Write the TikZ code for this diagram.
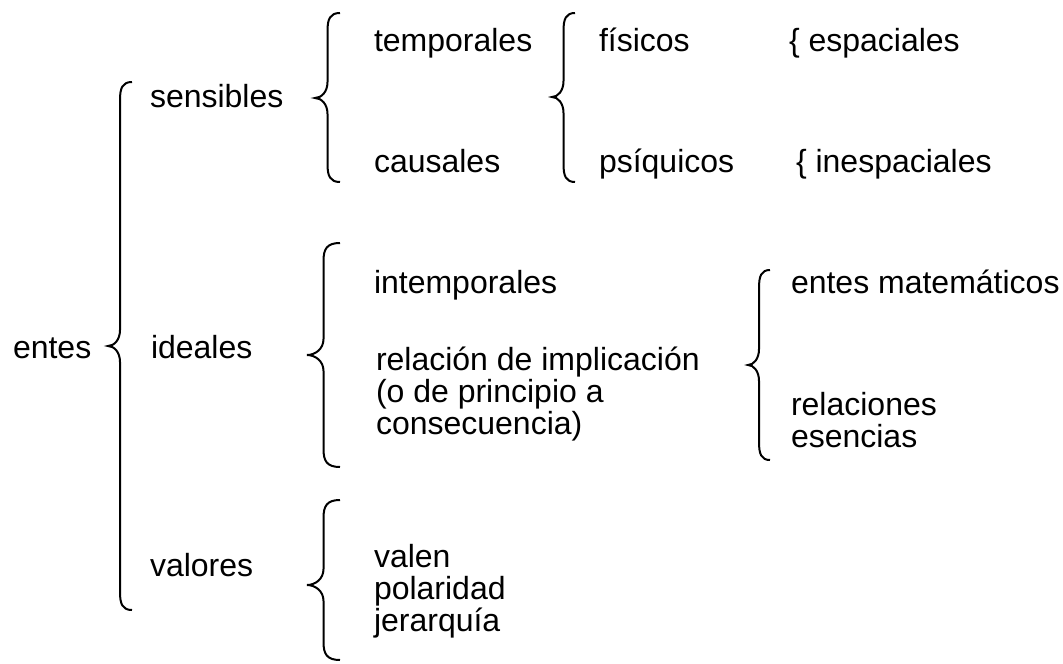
\documentclass[tikz,border=0pt]{standalone}
\usepackage{fontspec}
\setmainfont{Liberation Sans}

% brace: tip x, top y, tip y, bottom y, width
\newcommand{\llave}[5]{%
  \draw (#1+#5,#2) .. controls (#1+#5*0.6,#2) and (#1+#5*0.5,#2+6) .. (#1+#5*0.5,#2+18)
    -- (#1+#5*0.5,#3-16) .. controls (#1+#5*0.5,#3-6) and (#1+#5*0.25,#3) .. (#1,#3)
    .. controls (#1+#5*0.25,#3) and (#1+#5*0.5,#3+6) .. (#1+#5*0.5,#3+16)
    -- (#1+#5*0.5,#4-18) .. controls (#1+#5*0.5,#4-6) and (#1+#5*0.6,#4) .. (#1+#5,#4);}

\begin{document}
\begin{tikzpicture}[x=0.5pt,y=-0.5pt,line width=1pt]
        \useasboundingbox (0,0) rectangle (1063,663);
        \begin{scope}[every node/.style={anchor=base west,inner sep=0pt,
                        align=left,font=\fontsize{16}{15.8}\selectfont}]
            \node (entes) at (12,358) {entes};
            \node (sensibles) at (149,108) {sensibles};
            \node (ideales) at (150,358) {ideales};
            \node (valores) at (149,576) {valores};
            \node (temporales) at (373,52) {temporales};
            \node (causales) at (373,173) {causales};
            \node (fisicos) at (598,52) {físicos};
            \node (psiquicos) at (598,173) {psíquicos};
            \node (espaciales) at (788,52) {\{ espaciales};
            \node (inespaciales) at (795,173) {\{ inespaciales};
            \node (intemporales) at (373,293) {intemporales};
            % multi-line texts sit on the baseline of their last line
            \node (implicacion) at (375,434) {relación de implicación\\(o de principio a\\consecuencia)};
            \node (matematicos) at (790,293) {entes matemáticos};
            \node (relaciones) at (790,447) {relaciones\\esencias};
            \node (valen) at (373,631) {valen\\polaridad\\jerarquía};
        \end{scope}

        \llave{108}{82}{346}{610}{24}
        \llave{315}{13}{98}{182}{25}
        \llave{552}{13}{97}{182}{23}
        \llave{307}{243}{355}{467}{33}
        \llave{748}{270}{365}{460}{22}
        \llave{307}{500}{585}{660}{33}
    \end{tikzpicture}
\end{document}
